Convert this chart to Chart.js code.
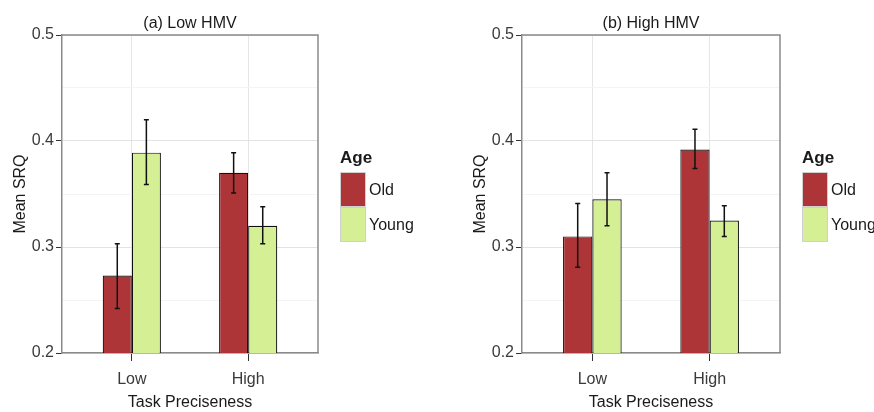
<!DOCTYPE html>
<html lang="en">
<head>
  <meta charset="UTF-8">
  <title>Mean SRQ by Task Preciseness</title>
  <style>
    body {
      margin: 0;
      background: #fff;
      overflow: hidden;
    }
    #wrap {
      position: relative;
      width: 874px;
      height: 412px;
    }
    .panel {
      position: absolute;
      top: 0;
      width: 437px;
      height: 412px;
    }
  </style>
</head>
<body>
  <div id="wrap">
    <div class="panel" style="left:0"><canvas id="lowChart"></canvas></div>
    <div class="panel" style="left:437px"><canvas id="highChart"></canvas></div>
  </div>

  <script src="https://cdn.jsdelivr.net/npm/chart.js"></script>
  <script>
    const categories = ['Low', 'High'];
    const ageGroups = ['Old', 'Young'];
    const yTicks = [0.2, 0.25, 0.3, 0.35, 0.4, 0.45, 0.5];

    // (a) Low HMV
    const lowHmvOld = [0.273, 0.370];
    const lowHmvYoung = [0.389, 0.320];
    const lowHmvOldLo = [0.242, 0.351];
    const lowHmvOldHi = [0.303, 0.389];
    const lowHmvYoungLo = [0.359, 0.303];
    const lowHmvYoungHi = [0.420, 0.338];

    // (b) High HMV
    const highHmvOld = [0.310, 0.392];
    const highHmvYoung = [0.345, 0.325];
    const highHmvOldLo = [0.281, 0.374];
    const highHmvOldHi = [0.341, 0.411];
    const highHmvYoungLo = [0.320, 0.310];
    const highHmvYoungHi = [0.370, 0.339];

    const FONT = "'Liberation Sans Narrow', 'Liberation Sans', Arial, sans-serif";
    Chart.defaults.font.family = FONT;
    Chart.defaults.font.size = 16;

    const isMajor = v => Math.round(v * 100) % 10 === 0;

    // error bars drawn on top of each bar
    const errorBars = {
      id: 'errorBars',
      afterDatasetsDraw(chart) {
        const { ctx } = chart;
        const y = chart.scales.y;
        ctx.save();
        ctx.strokeStyle = '#111';
        ctx.lineWidth = 1.5;
        chart.data.datasets.forEach((ds, di) => {
          chart.getDatasetMeta(di).data.forEach((bar, i) => {
            const lo = y.getPixelForValue(ds.errLo[i]);
            const hi = y.getPixelForValue(ds.errHi[i]);
            ctx.beginPath();
            ctx.moveTo(bar.x, lo);
            ctx.lineTo(bar.x, hi);
            ctx.moveTo(bar.x - 2.5, lo);
            ctx.lineTo(bar.x + 2.5, lo);
            ctx.moveTo(bar.x - 2.5, hi);
            ctx.lineTo(bar.x + 2.5, hi);
            ctx.stroke();
          });
        });
        ctx.restore();
      }
    };

    // panel title, top/right frame and the Age legend
    const frame = {
      id: 'frame',
      afterDraw(chart, args, opts) {
        const { ctx, chartArea: a } = chart;
        ctx.save();
        ctx.strokeStyle = '#8a8a8a';
        ctx.lineWidth = 1.5;
        ctx.beginPath();
        ctx.moveTo(a.left, a.top);
        ctx.lineTo(a.right, a.top);
        ctx.lineTo(a.right, a.bottom);
        ctx.stroke();

        ctx.fillStyle = '#1a1a1a';
        ctx.font = '16px ' + FONT;
        ctx.textAlign = 'center';
        ctx.textBaseline = 'middle';
        ctx.fillText(opts.title, (a.left + a.right) / 2, 24);

        const midY = (a.top + a.bottom) / 2;
        const lx = a.right + 22;
        ctx.textAlign = 'left';
        ctx.font = 'bold 17px ' + FONT;
        ctx.fillText('Age', lx, midY - 36);
        ctx.font = '16px ' + FONT;
        chart.data.datasets.forEach((ds, i) => {
          const ky = midY - 22 + i * 35;
          ctx.fillStyle = ds.backgroundColor;
          ctx.fillRect(lx, ky, 26, 35);
          ctx.strokeStyle = '#d0d0d0';
          ctx.lineWidth = 1;
          ctx.strokeRect(lx + 0.5, ky + 0.5, 25, 34);
          ctx.fillStyle = '#1a1a1a';
          ctx.fillText(ds.label, lx + 29, ky + 19);
        });
        ctx.restore();
      }
    };

    function makeChart(id, title, oldVals, youngVals, oldLo, oldHi, youngLo, youngHi, padLeft, padRight) {
      const toPoints = vals => vals.map((v, i) => ({ x: i + 1, y: v }));
      return new Chart(document.getElementById(id), {
        type: 'bar',
        data: {
          datasets: [{
            label: ageGroups[0],
            data: toPoints(oldVals),
            errLo: oldLo,
            errHi: oldHi,
            backgroundColor: '#ad3538',
            borderColor: '#111',
            borderWidth: 1.2,
            borderSkipped: false,
            barPercentage: 1,
            categoryPercentage: 0.5
          }, {
            label: ageGroups[1],
            data: toPoints(youngVals),
            errLo: youngLo,
            errHi: youngHi,
            backgroundColor: '#d5ef95',
            borderColor: '#111',
            borderWidth: 1.2,
            borderSkipped: false,
            barPercentage: 1,
            categoryPercentage: 0.5
          }]
        },
        options: {
          responsive: true,
          maintainAspectRatio: false,
          animation: false,
          layout: { padding: { left: padLeft, right: padRight, top: 35, bottom: 0 } },
          plugins: {
            legend: { display: false },
            tooltip: { enabled: false },
            frame: { title }
          },
          scales: {
            x: {
              type: 'linear',
              min: 0.4,
              max: 2.6,
              offset: false,
              afterBuildTicks: s => { s.ticks = categories.map((c, i) => ({ value: i + 1 })); },
              afterFit: s => { s.height = 59; },
              ticks: {
                callback: v => categories[v - 1],
                color: '#3a3a3a',
                padding: 9,
                maxRotation: 0,
                autoSkip: false
              },
              grid: { offset: false, color: '#e6e6e6', tickColor: '#333', tickLength: 8 },
              border: { color: '#8a8a8a', width: 1.5 },
              title: { display: true, text: 'Task Preciseness', color: '#1a1a1a', padding: { top: 0, bottom: 0 } }
            },
            y: {
              min: 0.2,
              max: 0.5,
              afterBuildTicks: s => { s.ticks = yTicks.map(v => ({ value: v })); },
              afterFit: s => { s.width = 62; },
              ticks: {
                callback: v => isMajor(v) ? v.toFixed(1) : '',
                color: '#3a3a3a',
                padding: 2,
                autoSkip: false
              },
              grid: {
                color: c => isMajor(c.tick.value) ? '#e3e3e3' : '#f4f4f4',
                tickColor: c => isMajor(c.tick.value) ? '#333' : 'rgba(0,0,0,0)',
                tickLength: 6
              },
              border: { color: '#8a8a8a', width: 1.5 },
              title: { display: true, text: 'Mean SRQ', color: '#1a1a1a', padding: { top: 11, bottom: 0 } }
            }
          }
        },
        plugins: [errorBars, frame]
      });
    }

    makeChart('lowChart', '(a) Low HMV', lowHmvOld, lowHmvYoung,
      lowHmvOldLo, lowHmvOldHi, lowHmvYoungLo, lowHmvYoungHi, 0, 119);
    makeChart('highChart', '(b) High HMV', highHmvOld, highHmvYoung,
      highHmvOldLo, highHmvOldHi, highHmvYoungLo, highHmvYoungHi, 23, 94);
  </script>
</body>
</html>
